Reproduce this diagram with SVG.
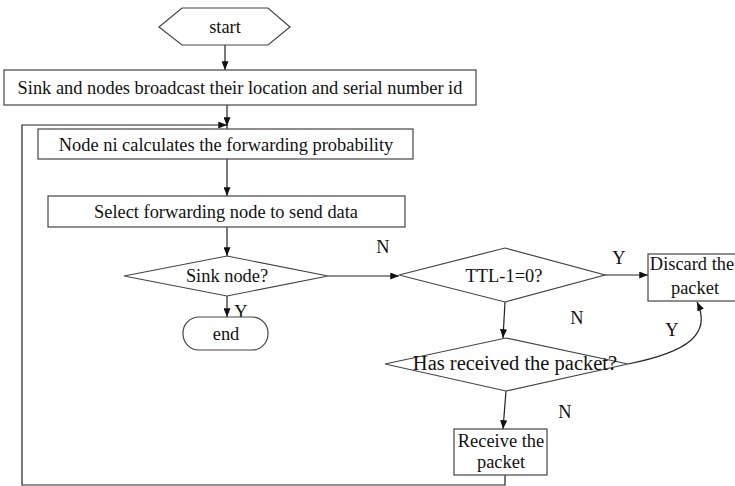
<svg xmlns="http://www.w3.org/2000/svg" width="735" height="486" viewBox="0 0 735 486">
  <defs>
    <marker id="arrow" viewBox="0 0 10 8" refX="10" refY="4" markerWidth="9" markerHeight="7" markerUnits="userSpaceOnUse" orient="auto">
      <path d="M0,0 L10,4 L0,8 z" fill="#111"/>
    </marker>
    <style>
      .shape { fill: #fff; stroke: #444; stroke-width: 1.2; }
      .edge { fill: none; stroke: #222; stroke-width: 1.2; }
      .arr { marker-end: url(#arrow); }
      text { font-family: "Liberation Serif", "Times New Roman", serif; font-size: 18.4px; fill: #111; }
      .c { text-anchor: middle; }
      .wide { font-size: 20.5px; }
    </style>
  </defs>

  <rect width="735" height="486" fill="#fff"/>

  <!-- connectors -->
  <g id="connectors">
    <line class="edge arr" x1="225" y1="45" x2="225" y2="70"/>
    <line class="edge arr" x1="227" y1="105" x2="227" y2="126"/>
    <line class="edge" x1="227" y1="125" x2="227" y2="129"/>
    <path class="edge arr" d="M505,475 L505,485 L22,485 L22,125 L227,125"/>
    <line class="edge arr" x1="227" y1="159" x2="227" y2="196"/>
    <line class="edge arr" x1="227" y1="227" x2="227" y2="256"/>
    <line class="edge arr" x1="227" y1="296" x2="227" y2="317"/>
    <line class="edge arr" x1="328" y1="276" x2="399" y2="276"/>
    <line class="edge arr" x1="605" y1="275" x2="648" y2="275"/>
    <line class="edge arr" x1="505" y1="302" x2="503" y2="338"/>
    <line class="edge arr" x1="506" y1="391" x2="503" y2="429"/>
    <path class="edge arr" d="M628,364 C688,352 712,334 697,302"/>
    <text class="c" x="383" y="253">N</text>
    <text class="c" x="619" y="264">Y</text>
    <text class="c" x="577" y="324">N</text>
    <text class="c" x="672" y="336">Y</text>
    <text class="c" x="241" y="318">Y</text>
    <text class="c" x="565" y="418">N</text>
  </g>

  <g id="start">
    <polygon class="shape" points="159,27 182,8 268,8 290,27 268,45 182,45"/>
    <text class="c" x="225" y="33">start</text>
  </g>

  <g id="broadcast">
    <rect class="shape" x="4" y="70" width="472" height="35"/>
    <text class="c" x="240" y="94">Sink and nodes broadcast their location and serial number id</text>
  </g>

  <g id="calc-prob">
    <rect class="shape" x="38" y="129" width="375" height="30"/>
    <text class="c" x="226" y="151">Node ni calculates the forwarding probability</text>
  </g>

  <g id="select-node">
    <rect class="shape" x="48" y="196" width="357" height="31"/>
    <text class="c" x="226" y="218">Select forwarding node to send data</text>
  </g>

  <g id="sink-check">
    <polygon class="shape" points="124,276 227,256 328,276 227,296"/>
    <text class="c" x="227" y="282">Sink node?</text>
  </g>

  <g id="end">
    <rect class="shape" x="183" y="317" width="85" height="33" rx="16" ry="16"/>
    <text class="c" x="226" y="340">end</text>
  </g>

  <g id="ttl-check">
    <polygon class="shape" points="399,275 505,248 605,275 505,302"/>
    <text class="c" x="504" y="282">TTL-1=0?</text>
  </g>

  <g id="discard">
    <rect class="shape" x="648" y="254" width="90" height="47"/>
    <text class="c" x="692" y="270">Discard the</text>
    <text class="c" x="695" y="294">packet</text>
  </g>

  <g id="received-check">
    <polygon class="shape" points="385,364 506,338 628,364 506,391"/>
    <text class="c wide" x="515" y="370">Has received the packet?</text>
  </g>

  <g id="receive">
    <rect class="shape" x="454" y="429" width="93" height="46"/>
    <text class="c" x="501" y="447">Receive the</text>
    <text class="c" x="501" y="468">packet</text>
  </g>
</svg>
